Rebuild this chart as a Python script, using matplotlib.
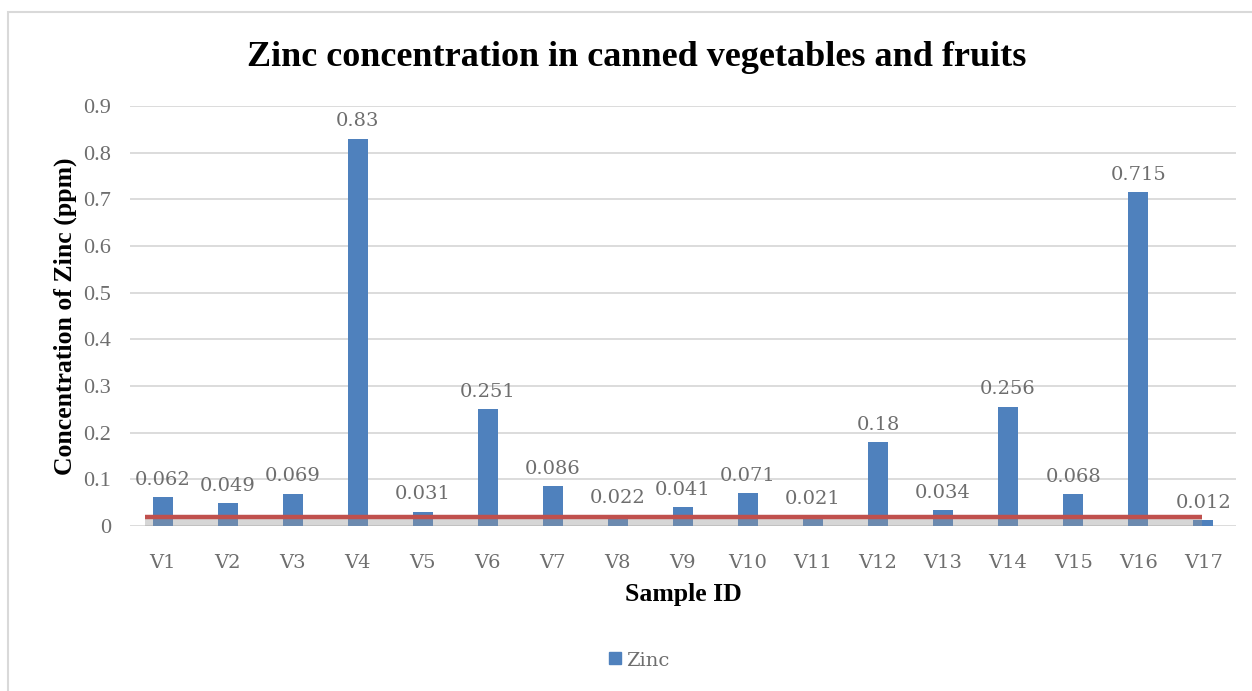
import matplotlib
matplotlib.use("Agg")
from matplotlib import pyplot as plt
from matplotlib.patches import Rectangle

# --------------------------------------------------------------------------------------------------
# Data
# --------------------------------------------------------------------------------------------------

samples = ["V1", "V2", "V3", "V4", "V5", "V6", "V7", "V8", "V9",
           "V10", "V11", "V12", "V13", "V14", "V15", "V16", "V17"]
zinc = [0.062, 0.049, 0.069, 0.83, 0.031, 0.251, 0.086, 0.022, 0.041,
        0.071, 0.021, 0.18, 0.034, 0.256, 0.068, 0.715, 0.012]
limit = 0.02                  # reference level drawn as the red line
limit_span = [-0.28, 15.98]   # x extent of the reference line (category units)
y_ticks = [0, 0.1, 0.2, 0.3, 0.4, 0.5, 0.6, 0.7, 0.8, 0.9]

bar_color = "#4F81BD"
line_color = "#C0504D"
grid_color = "#D9D9D9"
text_gray = "#6E6E6E"

# --------------------------------------------------------------------------------------------------
# Figure
# --------------------------------------------------------------------------------------------------

fig = plt.figure(figsize=(12.52, 6.91), dpi=100)
ax = fig.add_axes([0.104, 0.2388, 0.883, 0.6078])

# Outer chart frame (only the top and left edges fall inside the image)
fig.patches.append(Rectangle((8 / 1252, -0.1), 1.2, 1 - 12 / 691 + 0.1,
                             transform=fig.transFigure, fill=False,
                             edgecolor=grid_color, linewidth=1.5))

x = list(range(len(samples)))
ax.bar(x, zinc, width=0.31, color=bar_color, zorder=2)

# Value labels above each bar
for xi, v in zip(x, zinc):
    ax.annotate(f"{v:g}", (xi, v), xytext=(0, 6), textcoords="offset points",
                ha="center", va="bottom", fontsize=14, color=text_gray,
                family="DejaVu Serif")

# Reference line with its soft grey shadow
ax.fill_between(limit_span, 0, limit * 0.9, color="#9a9a9a", alpha=0.4,
                linewidth=0, zorder=3)
ax.plot(limit_span, [limit, limit], color=line_color, linewidth=3.2,
        solid_capstyle="butt", zorder=4)

ax.set_xlim(-0.5, len(samples) - 0.5)
ax.set_ylim(0, 0.9)
ax.set_yticks(y_ticks)
ax.set_yticklabels([f"{t:g}" for t in y_ticks])
ax.set_xticks(x)
ax.set_xticklabels(samples)
ax.tick_params(length=0, labelsize=14, labelcolor=text_gray)
ax.tick_params(axis="x", pad=20)
ax.tick_params(axis="y", pad=14)
for lbl in ax.get_xticklabels():
    lbl.set_family("DejaVu Serif")
for lbl in ax.get_yticklabels():
    lbl.set_family("Liberation Serif")
    lbl.set_fontsize(16)

ax.yaxis.grid(True, color=grid_color, linewidth=1.3, zorder=0)
ax.set_axisbelow(True)
for s in ax.spines.values():
    s.set_visible(False)

fig.text(637 / 1252, 1 - 58 / 691,
         "Zinc concentration in canned vegetables and fruits",
         fontsize=26, fontweight="bold", family="Liberation Serif",
         ha="center", va="center")
ax.set_xlabel("Sample ID", fontsize=18.5, fontweight="bold",
              family="Liberation Serif", labelpad=8)
ax.set_ylabel("Concentration of Zinc (ppm)", fontsize=18.5, fontweight="bold",
              family="Liberation Serif", labelpad=4)

# Legend below the axis title
fig.patches.append(Rectangle((609 / 1252, 1 - 664 / 691), 12 / 1252, 12 / 691,
                             transform=fig.transFigure, color=bar_color))
fig.text(626 / 1252, 1 - 661 / 691, "Zinc", fontsize=14, color=text_gray,
         family="DejaVu Serif", va="center", ha="left")

fig.savefig("out.png", dpi=100)
